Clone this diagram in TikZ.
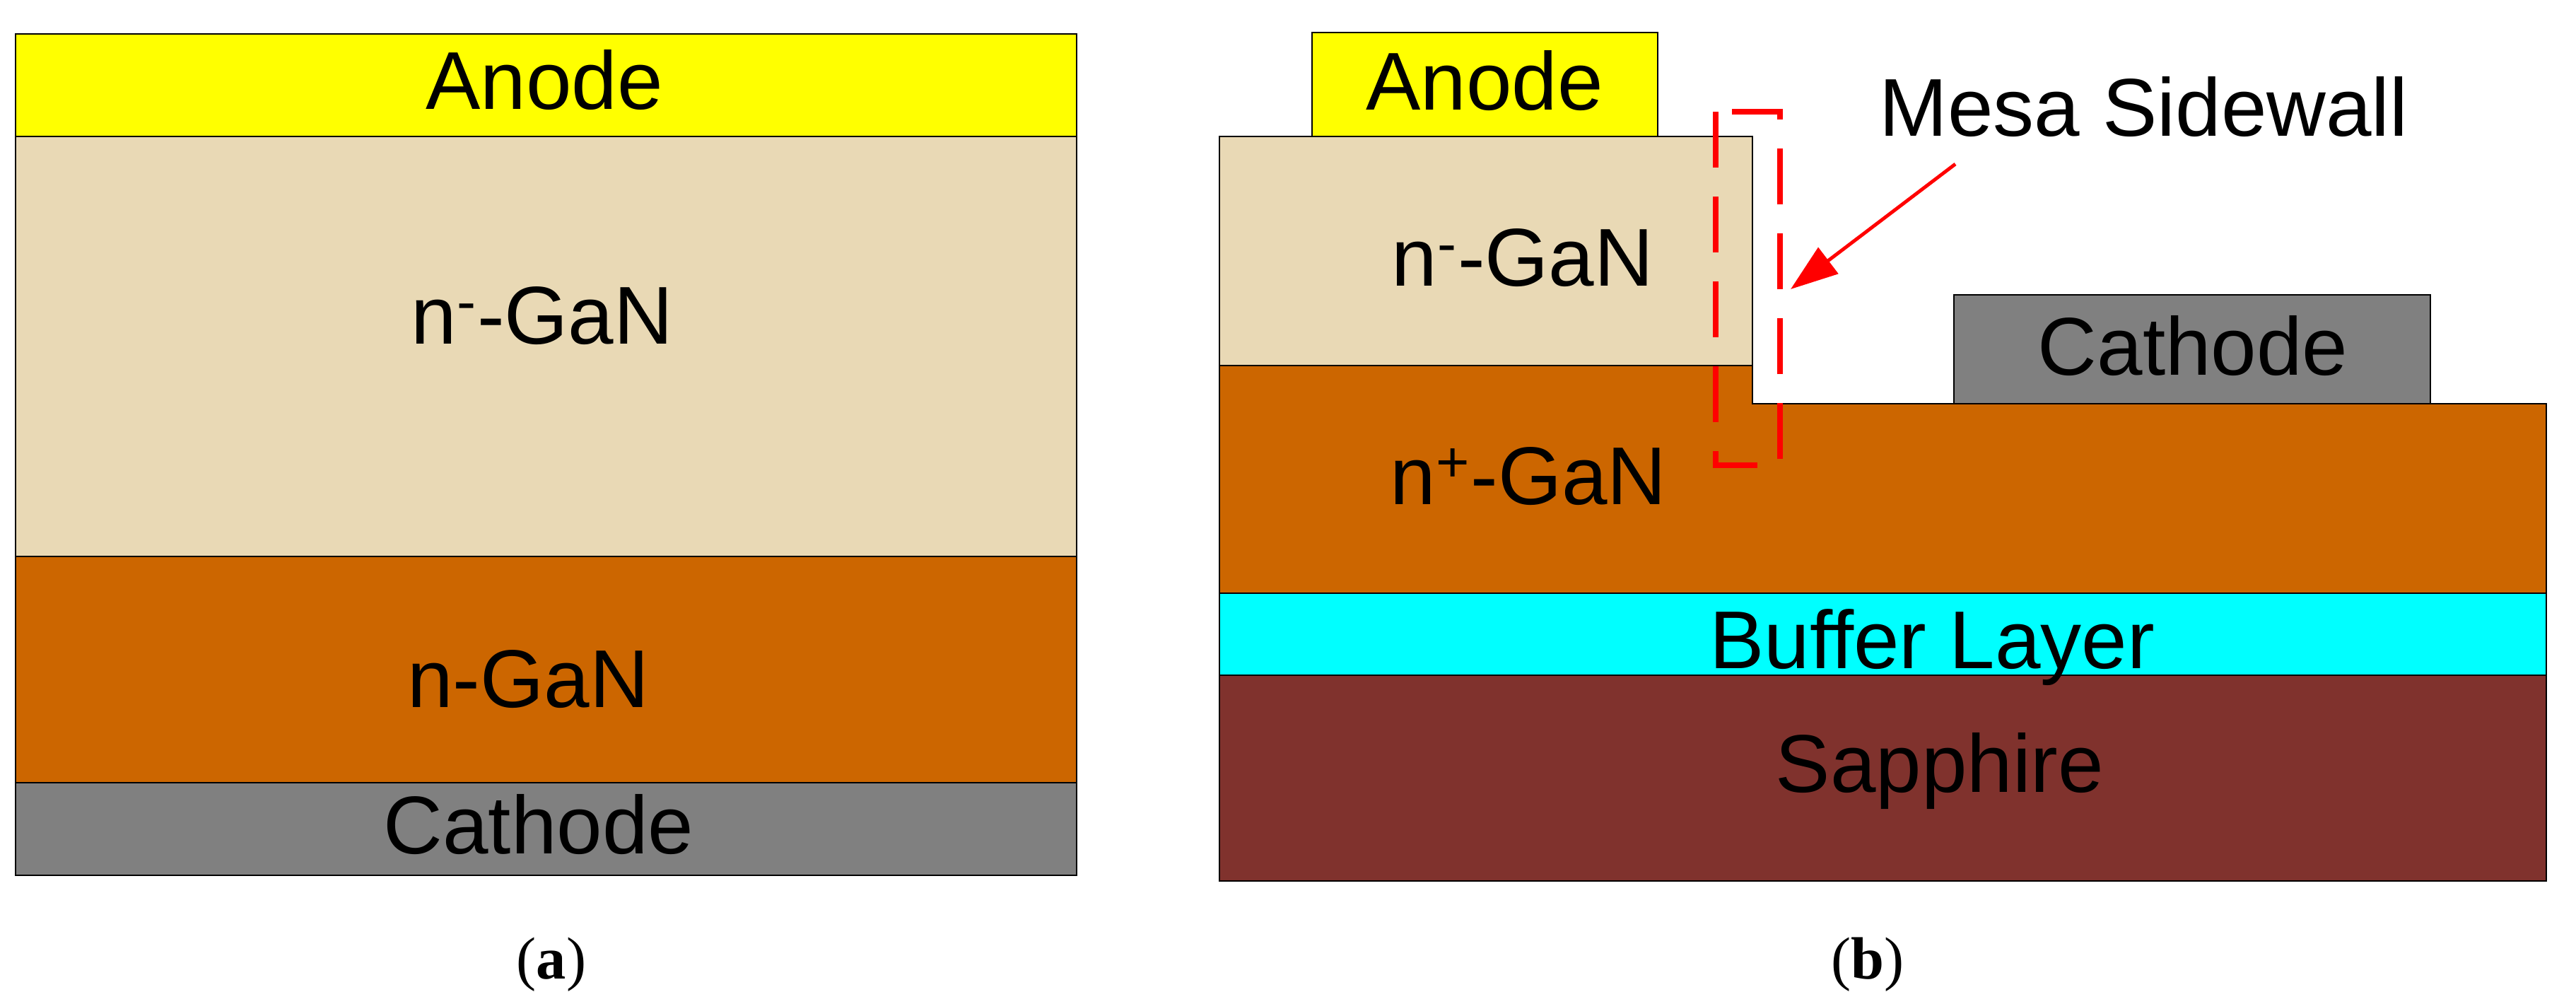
\documentclass[tikz,border=0pt]{standalone}
\usepackage{fontspec}
\setmainfont{Liberation Sans}
\newfontfamily\capfont{Liberation Serif}
\usetikzlibrary{arrows.meta}
\definecolor{anodeyellow}{RGB}{255, 255, 0}
\definecolor{nminus}{RGB}{233, 217, 181}
\definecolor{nplus}{RGB}{204, 102, 0}
\definecolor{cathgray}{RGB}{128, 128, 128}
\definecolor{buffcyan}{RGB}{0, 255, 255}
\definecolor{sapph}{RGB}{128, 50, 45}
\definecolor{mesared}{RGB}{255, 0, 0}

\begin{document}
\begin{tikzpicture}[
  layer/.style={draw=black, line width=0.8pt},
  lbl/.style={font=\fontsize{33}{40}\selectfont, anchor=base, inner sep=0pt},
  subcap/.style={font=\capfont\fontsize{24}{28}\selectfont, inner sep=0pt}]
  \useasboundingbox (0,0) rectangle (36.44,14.19);

  % (a) vertical diode
  \draw[layer, fill=anodeyellow] (0.22,12.26) rectangle (15.23,13.71);
  \draw[layer, fill=nminus] (0.22,6.32) rectangle (15.23,12.26);
  \draw[layer, fill=nplus] (0.22,3.12) rectangle (15.23,6.32);
  \draw[layer, fill=cathgray] (0.22,1.81) rectangle (15.23,3.12);
  \node[lbl] (anodeA) at (7.70,12.64) {Anode};
  \node[lbl, anchor=base west] (nminusA) at (5.81,9.33) {n\textsuperscript{-}-GaN};
  \node[lbl] (nA) at (7.47,4.19) {n-GaN};
  \node[lbl] (cathA) at (7.62,2.12) {Cathode};
  \node[subcap] (capA) at (7.80,0.55) {(\textbf{a})};

  % (b) lateral diode on sapphire
  \draw[layer, fill=sapph] (17.25,1.73) rectangle (36.02,4.64);
  \draw[layer, fill=buffcyan] (17.25,4.64) rectangle (36.02,5.80);
  \draw[layer, fill=nplus] (17.25,5.80) -- (17.25,9.02) -- (24.79,9.02) -- (24.79,8.48) -- (36.02,8.48) -- (36.02,5.80) -- cycle;
  \draw[layer, fill=nminus] (17.25,9.02) rectangle (24.79,12.26);
  \draw[layer, fill=anodeyellow] (18.56,12.26) rectangle (23.45,13.73);
  \draw[layer, fill=cathgray] (27.64,8.48) rectangle (34.38,10.02);
  \node[lbl] (anodeB) at (21.00,12.63) {Anode};
  \node[lbl, anchor=base west] (nminusB) at (19.68,10.15) {n\textsuperscript{-}-GaN};
  \node[lbl, anchor=base west] (nplusB) at (19.66,7.06) {n\textsuperscript{+}-GaN};
  \node[lbl] (cathB) at (31.02,8.89) {Cathode};
  \node[lbl] (buffB) at (27.33,4.74) {Buffer Layer};
  \node[lbl] (sapphB) at (27.44,2.99) {Sapphire};
  \node[subcap] (capB) at (26.42,0.55) {(\textbf{b})};

  % sidewall marker
  \draw[mesared, line width=2.5pt, dash pattern=on 0.79cm off 0.41cm] (24.27,12.61) -- (24.27,7.61) -- (25.18,7.61) -- (25.18,12.61) -- cycle;
  \node[lbl, anchor=base west] (mesa) at (26.58,12.27) {Mesa Sidewall};
  \coordinate (tail) at (27.66,11.87);
  \coordinate (tip) at (25.33,10.10);
  \draw[mesared, line width=1.4pt, -{Triangle[length=0.67cm, width=0.46cm]}] (tail) -- (tip);
\end{tikzpicture}
\end{document}
